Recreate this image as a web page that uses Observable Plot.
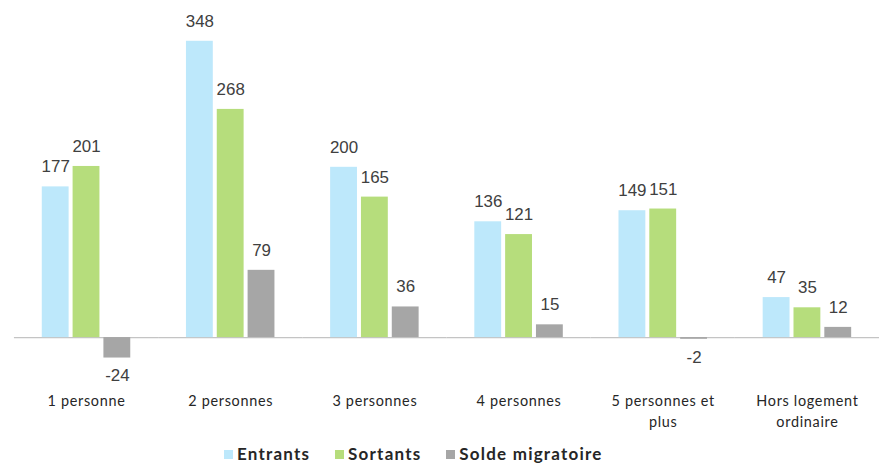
<!DOCTYPE html>
<html>
<head>
<meta charset="utf-8">
<script src="https://cdn.jsdelivr.net/npm/d3@7"></script>
<script src="https://cdn.jsdelivr.net/npm/@observablehq/plot@0.6"></script>
<style>
  html, body { margin: 0; padding: 0; background: #fff; overflow: hidden; }
  #chart { width: 881px; overflow: hidden; }
  #chart svg { overflow: visible; }
  #legend { width: 881px; display: flex; justify-content: flex-start; gap: 25px; font-family: Lato, "DejaVu Sans", sans-serif; font-weight: bold; font-size: 17px; letter-spacing: 1.2px; color: #262626; margin-top: 5px; padding-left: 224px; box-sizing: border-box; }
  #legend span.sw { display: inline-block; width: 9px; height: 9px; margin-right: 4px; vertical-align: 1px; }
  [aria-label="fx-axis tick label"] text { letter-spacing: 0.7px; }
</style>
</head>
<body>
<div id="chart"></div>
<div id="legend"></div>
<script>
const categories = ["1 personne", "2 personnes", "3 personnes", "4 personnes", "5 personnes et\nplus", "Hors logement\nordinaire"];
const series = ["Entrants", "Sortants", "Solde migratoire"];
const entrants = [177, 348, 200, 136, 149, 47];
const sortants = [201, 268, 165, 121, 151, 35];
const solde = [-24, 79, 36, 15, -2, 12];
const colors = ["#bde8fb", "#b6dd7c", "#a6a6a6"];

const values = [entrants, sortants, solde];
const data = categories.flatMap((c, i) => series.map((s, j) => ({cat: c, series: s, value: values[j][i]})));

const chart = Plot.plot({
  width: 886,
  height: 440,
  marginLeft: 12,
  marginRight: 0,
  marginTop: 0,
  marginBottom: 55,
  style: {fontFamily: "'Liberation Sans', Arial, sans-serif", background: "#fff"},
  fx: {domain: categories, padding: 0, label: null, axis: null},
  x: {domain: series, axis: null, paddingInner: 0.125, paddingOuter: 0.8375},
  y: {domain: [-53.7, 395.9], axis: null},
  color: {domain: series, range: colors},
  marks: [
    Plot.ruleY([0], {stroke: "#c4c4c4", strokeWidth: 1.2}),
    Plot.barY(data, {fx: "cat", x: "series", y: "value", fill: "series"}),
    Plot.text(data.filter(d => d.value >= 0), {fx: "cat", x: "series", y: "value", text: d => String(d.value), dy: -20, fontSize: 17, fill: "#404040"}),
    Plot.text(data.filter(d => d.value < 0), {fx: "cat", x: "series", y: "value", text: d => String(d.value), dy: 18, fontSize: 17, fill: "#404040"}),
    Plot.axisFx({anchor: "bottom", tickSize: 0, tickPadding: 8, fontSize: 14.5, lineHeight: 1.45, label: null, fill: "#262626", fontFamily: "Lato, 'DejaVu Sans', sans-serif"})
  ]
});
document.getElementById("chart").appendChild(chart);

const legend = document.getElementById("legend");
series.forEach((s, i) => {
  const item = document.createElement("div");
  const sw = document.createElement("span");
  sw.className = "sw";
  sw.style.background = colors[i];
  item.appendChild(sw);
  item.appendChild(document.createTextNode(s));
  legend.appendChild(item);
});
</script>
</body>
</html>
